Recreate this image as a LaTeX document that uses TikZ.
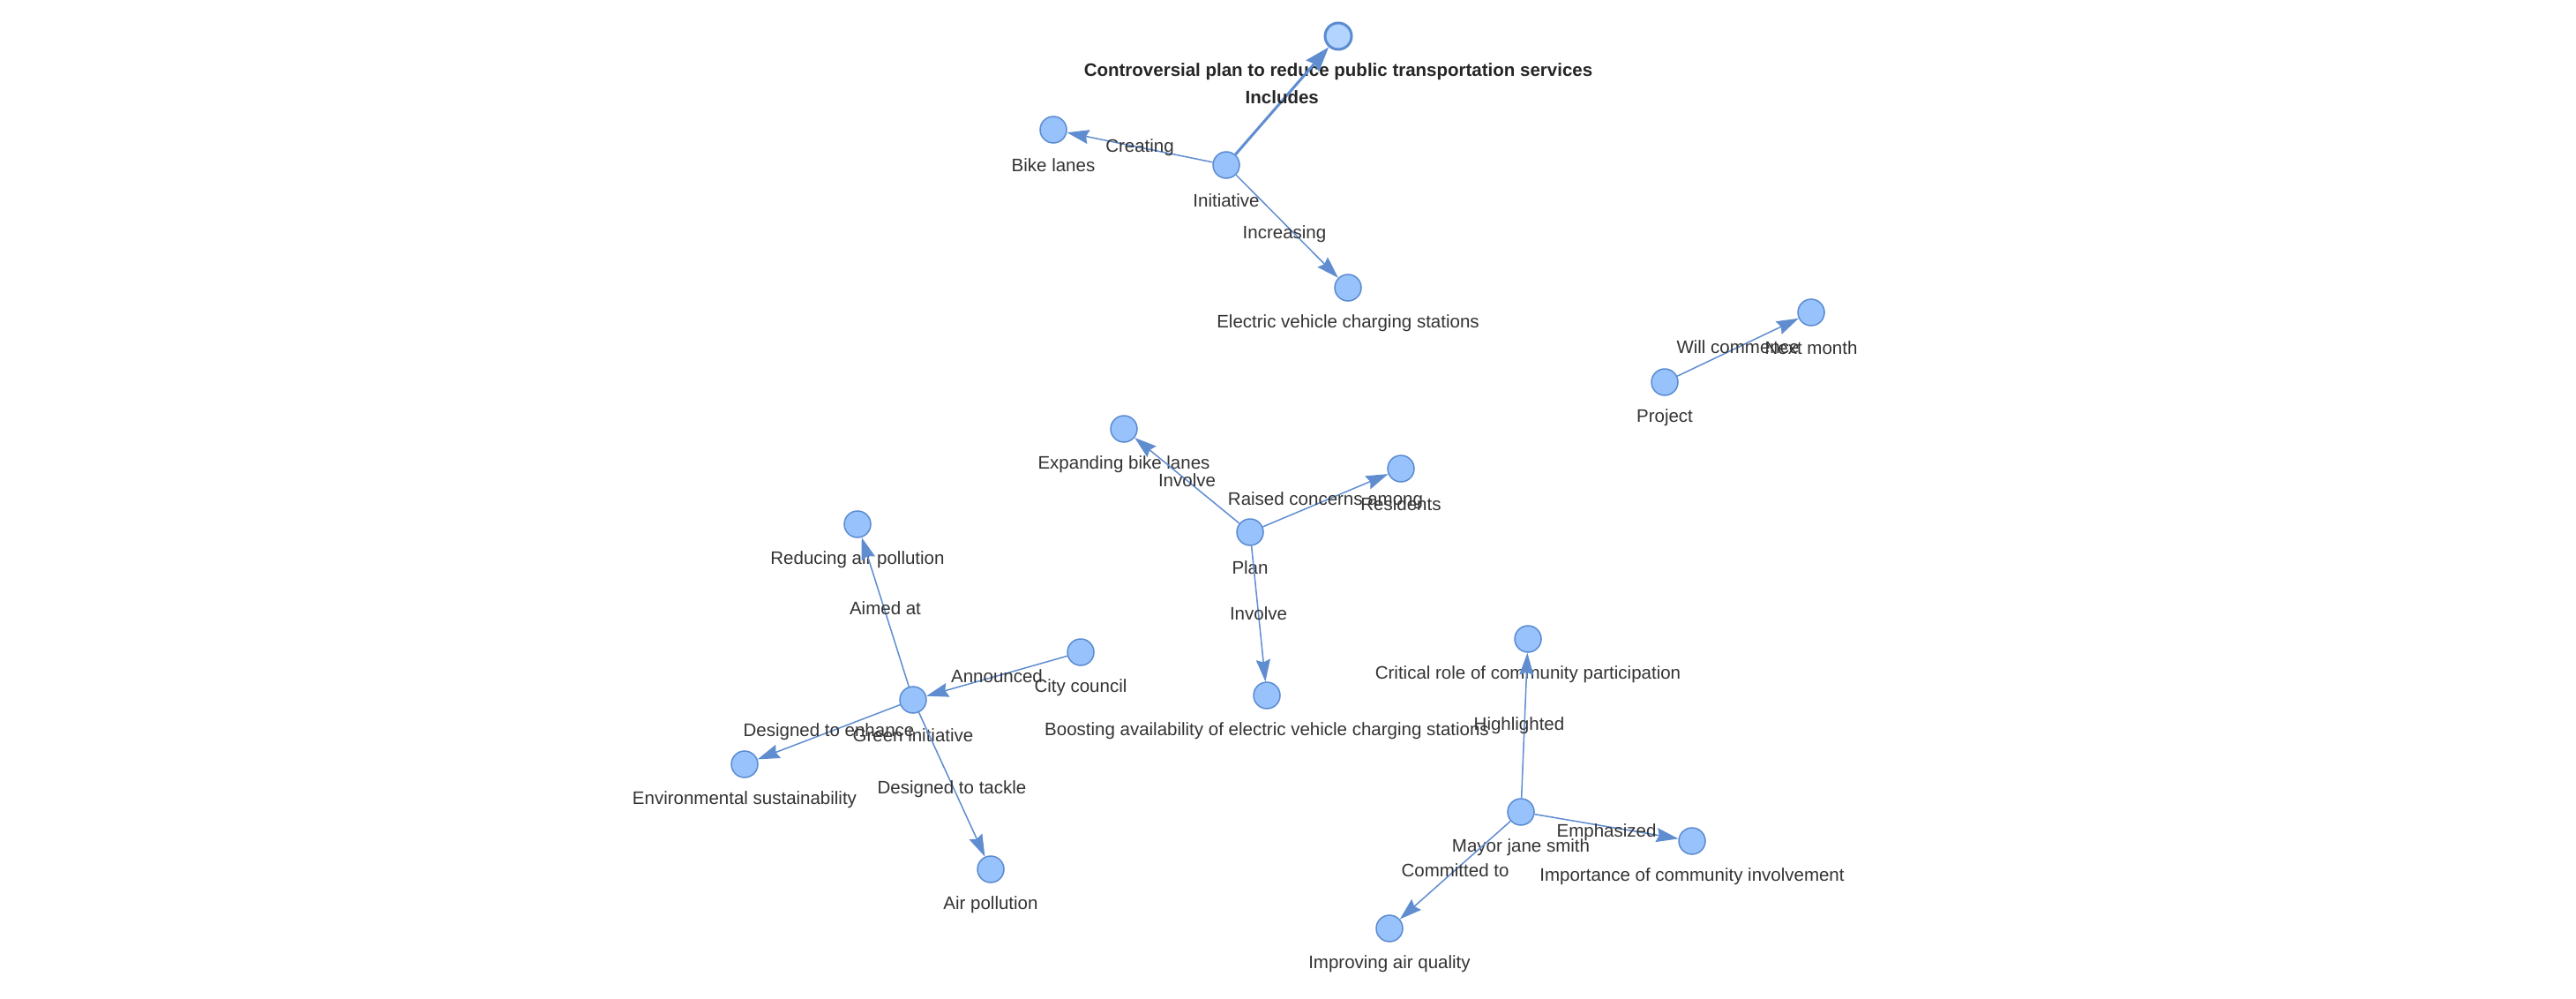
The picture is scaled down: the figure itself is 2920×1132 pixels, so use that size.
\documentclass[tikz,border=0pt]{standalone}
\usepackage{fontspec}
\setmainfont{Liberation Sans}
\usetikzlibrary{arrows.meta}
\definecolor{nfill}{HTML}{97C2FC}
\definecolor{nborder}{HTML}{5B8BD0}
\definecolor{ecol}{HTML}{5F8DD0}
\definecolor{hfill}{HTML}{B3D4FF}
\definecolor{txt}{HTML}{333333}
\begin{document}
\begin{tikzpicture}[x=1pt,y=-1pt,
  vnode/.style={circle,draw=nborder,fill=nfill,line width=1.5pt,minimum size=30pt,inner sep=0pt},
  hnode/.style={vnode,fill=hfill,line width=3pt},
  nlabel/.style={font=\fontsize{20.5}{24}\selectfont,text=txt,inner sep=0pt},
  hlabel/.style={nlabel,font=\fontsize{20.5}{24}\selectfont\bfseries,text=black!85},
  elabel/.style={font=\fontsize{20.5}{24}\selectfont,text=txt,inner sep=0pt,midway},
  helabel/.style={elabel,font=\fontsize{20.5}{24}\selectfont\bfseries,text=black!85},
  rel/.style={draw=ecol,line width=1.5pt,-{Stealth[length=25pt,width=16pt,inset=3pt]}},
  hrel/.style={draw=ecol,line width=3pt,-{Stealth[length=28pt,width=19pt,inset=3pt]}}
]
\useasboundingbox (0,0) rectangle (2920,1132);
\fill[white] (0,0) rectangle (2920,1132);

% nodes
\node[hnode] (ctrl) at (1517,41) {};
\node[vnode] (init) at (1390,187) {};
\node[vnode] (bike) at (1194,147) {};
\node[vnode] (ev) at (1528,326) {};
\node[vnode] (next) at (2053,354) {};
\node[vnode] (proj) at (1887,433) {};
\node[vnode] (expand) at (1274,486) {};
\node[vnode] (resid) at (1588,531) {};
\node[vnode] (plan) at (1417,603) {};
\node[vnode] (boost) at (1436,788) {};
\node[vnode] (reduce) at (972,594) {};
\node[vnode] (city) at (1225,739) {};
\node[vnode] (green) at (1035,793) {};
\node[vnode] (env) at (844,866) {};
\node[vnode] (airp) at (1123,985) {};
\node[vnode] (crit) at (1732,724) {};
\node[vnode] (mayor) at (1724,920) {};
\node[vnode] (imp) at (1918,953) {};
\node[vnode] (imq) at (1575,1052) {};

% node labels
\node[hlabel] (ctrl-t) at (1517,81) {Controversial plan to reduce public transportation services};
\node[nlabel] (init-t) at (1390,227) {Initiative};
\node[nlabel] (bike-t) at (1194,187) {Bike lanes};
\node[nlabel] (ev-t) at (1528,366) {Electric vehicle charging stations};
\node[nlabel] (next-t) at (2053,394) {Next month};
\node[nlabel] (proj-t) at (1887,473) {Project};
\node[nlabel] (expand-t) at (1274,526) {Expanding bike lanes};
\node[nlabel] (resid-t) at (1588,571) {Residents};
\node[nlabel] (plan-t) at (1417,643) {Plan};
\node[nlabel] (boost-t) at (1436,828) {Boosting availability of electric vehicle charging stations};
\node[nlabel] (reduce-t) at (972,634) {Reducing air pollution};
\node[nlabel] (city-t) at (1225,779) {City council};
\node[nlabel] (green-t) at (1035,833) {Green initiative};
\node[nlabel] (env-t) at (844,906) {Environmental sustainability};
\node[nlabel] (airp-t) at (1123,1025) {Air pollution};
\node[nlabel] (crit-t) at (1732,764) {Critical role of community participation};
\node[nlabel] (mayor-t) at (1724,960) {Mayor jane smith};
\node[nlabel] (imp-t) at (1918,993) {Importance of community involvement};
\node[nlabel] (imq-t) at (1575,1092) {Improving air quality};

% edges
\draw[hrel] (init) -- node[helabel,yshift=4pt] (e1) {Includes} (ctrl);
\draw[rel] (init) -- node[elabel] (e2) {Creating} (bike);
\draw[rel] (init) -- node[elabel,yshift=-9pt,xshift=-3pt] (e3) {Increasing} (ev);
\draw[rel] (proj) -- node[elabel] (e4) {Will commence} (next);
\draw[rel] (plan) -- node[elabel] (e5) {Involve} (expand);
\draw[rel] (plan) -- node[elabel] (e6) {Raised concerns among} (resid);
\draw[rel] (plan) -- node[elabel] (e7) {Involve} (boost);
\draw[rel] (green) -- node[elabel,yshift=4pt] (e8) {Aimed at} (reduce);
\draw[rel] (city) -- node[elabel] (e9) {Announced} (green);
\draw[rel] (green) -- node[elabel] (e10) {Designed to enhance} (env);
\draw[rel] (green) -- node[elabel,yshift=-5pt] (e11) {Designed to tackle} (airp);
\draw[rel] (mayor) -- node[elabel,xshift=-6pt] (e12) {Highlighted} (crit);
\draw[rel] (mayor) -- node[elabel,yshift=-7pt] (e13) {Emphasized} (imp);
\draw[rel] (mayor) -- node[elabel] (e14) {Committed to} (imq);
\end{tikzpicture}
\end{document}
